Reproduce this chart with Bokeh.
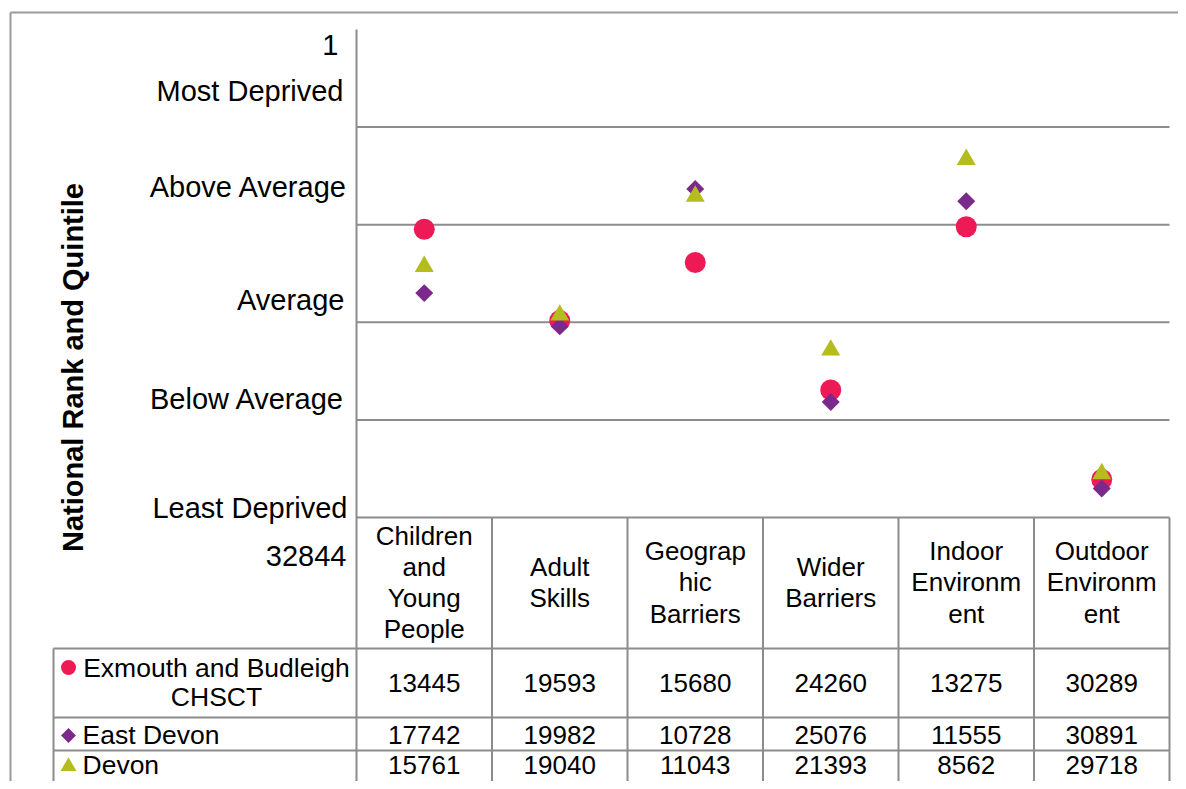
import math
from bokeh.plotting import figure
from bokeh.models import Range1d, ColumnDataSource
from bokeh.core.properties import value
from bokeh.transform import dodge
from bokeh.embed import file_html
from bokeh.resources import INLINE

# ---------------- data ----------------
categories = ["Children and Young People", "Adult Skills", "Geographic Barriers",
              "Wider Barriers", "Indoor Environment", "Outdoor Environment"]
header_labels = ["Children\nand\nYoung\nPeople", "Adult\nSkills", "Geograp\nhic\nBarriers",
                 "Wider\nBarriers", "Indoor\nEnvironm\nent", "Outdoor\nEnvironm\nent"]
series_names = ["Exmouth and Budleigh CHSCT", "East Devon", "Devon"]
series_labels = ["Exmouth and Budleigh\nCHSCT", "East Devon", "Devon"]
exmouth_budleigh = [13445, 19593, 15680, 24260, 13275, 30289]
east_devon = [17742, 19982, 10728, 25076, 11555, 30891]
devon = [15761, 19040, 11043, 21393, 8562, 29718]
rank_min = 1
rank_max = 32844
quintile_labels = ["Most Deprived", "Above Average", "Average", "Below Average", "Least Deprived"]
axis_title = "National Rank and Quintile"

# ---------------- layout (screen pixels) ----------------
W, H = 1178, 781
PLOT_L, PLOT_T, PLOT_B = 356, 29, 517
COL_W = 135.5
n = len(categories)
TABLE_R = PLOT_L + n * COL_W
FONT = value("Liberation Sans")
GRID = "#8c8c8c"

k = (rank_max - rank_min) / (PLOT_B - PLOT_T)
p = figure(width=W, height=H,
           x_range=Range1d((0 - PLOT_L) / COL_W, (W - PLOT_L) / COL_W),
           y_range=Range1d(start=rank_min + (H - PLOT_T) * k, end=rank_min + (0 - PLOT_T) * k),
           x_axis_type=None, y_axis_type=None,
           output_backend="svg", toolbar_location=None, min_border=0)
p.extra_x_ranges = {"px": Range1d(0, W)}
p.extra_y_ranges = {"px": Range1d(start=H, end=0)}
p.outline_line_color = None
p.grid.visible = False
p.background_fill_color = "white"
p.border_fill_color = "white"

# outer chart border
p.segment(x0=[10, 10], y0=[12, 12], x1=[W, 10], y1=[12, H],
          x_range_name="px", y_range_name="px", line_color="#9a9a9a", line_width=2)

# quintile gridlines (data scale)
qb = [rank_min + (rank_max - rank_min) * j / 5 for j in range(1, 5)]
p.segment(x0=[0] * len(qb), y0=qb, x1=[n] * len(qb), y1=qb, line_color=GRID, line_width=2)

# vertical axis line and table column lines
xs = list(range(0, n + 1))
p.segment(x0=[0], y0=[PLOT_T], x1=[0], y1=[H], y_range_name="px", line_color=GRID, line_width=2)
p.segment(x0=xs[1:], y0=[PLOT_B] * n, x1=xs[1:], y1=[H] * n, y_range_name="px",
          line_color=GRID, line_width=2)
# table horizontal lines
p.segment(x0=[0], y0=[PLOT_B], x1=[n], y1=[PLOT_B], y_range_name="px", line_color=GRID, line_width=2)
row_lines = [648, 717, 750]
p.segment(x0=[53] * 3, y0=row_lines, x1=[TABLE_R] * 3, y1=row_lines,
          x_range_name="px", y_range_name="px", line_color=GRID, line_width=2)
p.segment(x0=[53], y0=[648], x1=[53], y1=[H], x_range_name="px", y_range_name="px",
          line_color=GRID, line_width=2)

# markers
cx = [i + 0.5 for i in range(n)]
src = ColumnDataSource(dict(x=cx, ex=exmouth_budleigh, ed=east_devon, dv=devon))
colors = ["#ED1A55", "#7B2A8C", "#B4BC1E"]
TRI = 19
p.scatter("x", "ex", source=src, marker="circle", size=21, fill_color=colors[0], line_color=None)
p.scatter("x", "ed", source=src, marker="square", size=12.7, angle=math.pi / 4,
          fill_color=colors[1], line_color=None)
# triangle: centre its bounding box on the value (Bokeh centres the centroid)
p.scatter("x", dodge("dv", TRI * math.sqrt(3) / 12 * k), source=src, marker="triangle", size=TRI,
          fill_color=colors[2], line_color=None)

# y-axis labels
label_texts = ["1"] + quintile_labels + [str(rank_max)]
label_y = [44, 90, 186, 299, 398, 507, 555]
label_x = [338, 343, 347, 344, 344, 347, 346]
p.text(x=label_x, y=label_y, text=label_texts, x_range_name="px", y_range_name="px",
       text_align="right", text_baseline="middle", text_font=FONT, text_font_size="29px",
       text_color="black")

# axis title
p.text(x=[72], y=[367], text=[axis_title], angle=math.pi / 2, x_range_name="px", y_range_name="px",
       text_align="center", text_baseline="middle", text_font=FONT, text_font_size="29px",
       text_font_style="bold", text_color="black")

# table header
p.text(x=cx, y=[582] * n, text=header_labels, y_range_name="px",
       text_align="center", text_baseline="middle", text_font=FONT, text_font_size="26px",
       text_color="black", text_line_height=1.04)

# table values
row_y = [682, 734, 764]
for vals, ry in zip([exmouth_budleigh, east_devon, devon], row_y):
    p.text(x=cx, y=[ry] * n, text=[str(v) for v in vals], y_range_name="px",
           text_align="center", text_baseline="middle", text_font=FONT, text_font_size="26px",
           text_color="black")

# row labels with legend keys
p.text(x=[216], y=[682], text=[series_labels[0]], x_range_name="px", y_range_name="px",
       text_align="center", text_baseline="middle", text_font=FONT, text_font_size="26.5px",
       text_color="black", text_line_height=0.99)
p.text(x=[82, 82], y=[734, 764], text=series_labels[1:], x_range_name="px", y_range_name="px",
       text_align="left", text_baseline="middle", text_font=FONT, text_font_size="26.5px",
       text_color="black")
p.scatter([68], [667], marker="circle", size=15, fill_color=colors[0], line_color=None,
          x_range_name="px", y_range_name="px")
p.scatter([68], [735], marker="square", size=10.5, angle=math.pi / 4, fill_color=colors[1], line_color=None,
          x_range_name="px", y_range_name="px")
p.scatter([68], [766], marker="triangle", size=16, fill_color=colors[2], line_color=None,
          x_range_name="px", y_range_name="px")

open("out.html", "w").write(file_html(p, INLINE))
